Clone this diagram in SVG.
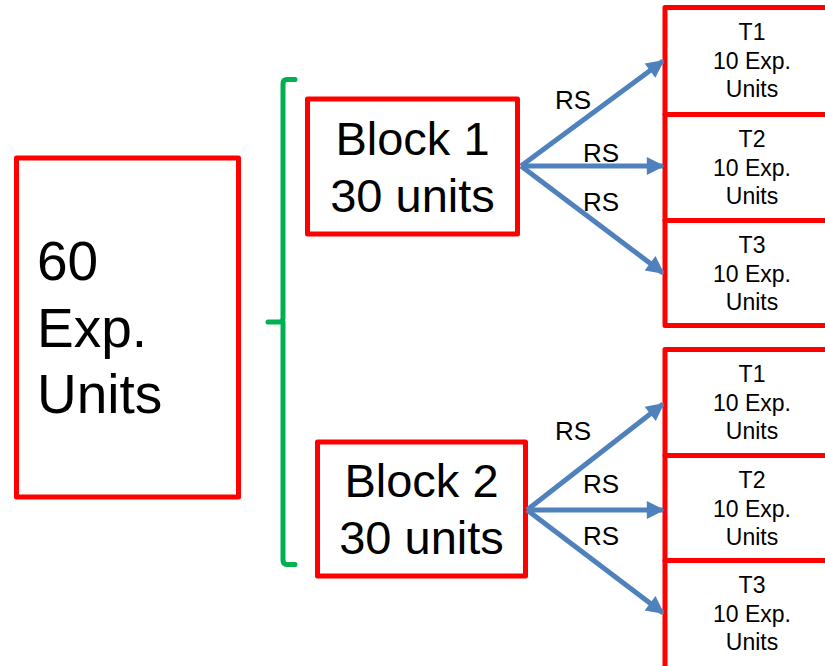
<svg xmlns="http://www.w3.org/2000/svg" width="825" height="666" viewBox="0 0 825 666">
  <style>
    .box { fill: #FFFFFF; stroke: #FF0000; stroke-width: 5; stroke-linejoin: round; }
    .txt { font-family: "Liberation Sans", Arial, sans-serif; fill: #000000; }
    .big { font-size: 55px; }
    .blk { font-size: 47px; text-anchor: middle; }
    .trt { font-size: 23px; text-anchor: middle; }
    .rs  { font-size: 26px; }
    .arrow { stroke: #4F81BD; stroke-width: 5; fill: none; marker-end: url(#head); }
    .brace { stroke: #00B050; stroke-width: 5; fill: none; stroke-linecap: round; stroke-linejoin: round; }
  </style>
  <defs>
    <marker id="head" viewBox="0 0 10 10" refX="9" refY="5" markerWidth="4.2" markerHeight="3.6" orient="auto" markerUnits="strokeWidth">
      <path d="M0,0 L10,5 L0,10 z" fill="#4F81BD"/>
    </marker>
  </defs>

  <rect width="825" height="666" fill="#FFFFFF"/>

  <!-- total pool of units -->
  <g id="pool">
    <rect class="box" x="16.5" y="158" width="222" height="339"/>
    <text class="txt big" x="37" y="280">60</text>
    <text class="txt big" x="37" y="347">Exp.</text>
    <text class="txt big" x="37" y="413">Units</text>
  </g>

  <!-- brace grouping the two blocks -->
  <g id="brace">
    <path class="brace" d="M295,79.5 L287,79.5 Q283,79.5 283,84 L283,318 Q283,322 279,322 L268,322 M283,322 L283,560 Q283,564.5 287,564.5 L295,564.5"/>
  </g>

  <g id="block1">
    <rect class="box" x="307.5" y="99" width="210" height="135"/>
    <text class="txt blk" x="412.5" y="155">Block 1</text>
    <text class="txt blk" x="412.5" y="212">30 units</text>
  </g>

  <g id="block2">
    <rect class="box" x="317.5" y="442" width="208" height="134"/>
    <text class="txt blk" x="421.5" y="497">Block 2</text>
    <text class="txt blk" x="421.5" y="554">30 units</text>
  </g>

  <!-- treatments, block 1 -->
  <g id="b1t1">
    <rect class="box" x="665" y="7.5" width="200" height="107"/>
    <text class="txt trt" x="752" y="40">T1</text>
    <text class="txt trt" x="752" y="69">10 Exp.</text>
    <text class="txt trt" x="752" y="97">Units</text>
  </g>
  <g id="b1t2">
    <rect class="box" x="665" y="114.5" width="200" height="106"/>
    <text class="txt trt" x="752" y="147">T2</text>
    <text class="txt trt" x="752" y="176">10 Exp.</text>
    <text class="txt trt" x="752" y="204">Units</text>
  </g>
  <g id="b1t3">
    <rect class="box" x="665" y="220.5" width="200" height="105"/>
    <text class="txt trt" x="752" y="253">T3</text>
    <text class="txt trt" x="752" y="282">10 Exp.</text>
    <text class="txt trt" x="752" y="310">Units</text>
  </g>

  <!-- treatments, block 2 -->
  <g id="b2t1">
    <rect class="box" x="665" y="349.5" width="200" height="106"/>
    <text class="txt trt" x="752" y="382">T1</text>
    <text class="txt trt" x="752" y="411">10 Exp.</text>
    <text class="txt trt" x="752" y="439">Units</text>
  </g>
  <g id="b2t2">
    <rect class="box" x="665" y="455.5" width="200" height="105"/>
    <text class="txt trt" x="752" y="488">T2</text>
    <text class="txt trt" x="752" y="517">10 Exp.</text>
    <text class="txt trt" x="752" y="545">Units</text>
  </g>
  <g id="b2t3">
    <rect class="box" x="665" y="560.5" width="200" height="120"/>
    <text class="txt trt" x="752" y="593">T3</text>
    <text class="txt trt" x="752" y="622">10 Exp.</text>
    <text class="txt trt" x="752" y="650">Units</text>
  </g>

  <!-- random assignment connectors -->
  <g id="connectors">
    <line class="arrow" x1="521" y1="166" x2="663" y2="61"/>
    <line class="arrow" x1="521" y1="166" x2="663" y2="166"/>
    <line class="arrow" x1="521" y1="166" x2="663" y2="273"/>
    <line class="arrow" x1="527" y1="510" x2="663" y2="404"/>
    <line class="arrow" x1="527" y1="510" x2="663" y2="510"/>
    <line class="arrow" x1="527" y1="510" x2="663" y2="613"/>
    <text class="txt rs" x="555" y="109">RS</text>
    <text class="txt rs" x="583" y="162">RS</text>
    <text class="txt rs" x="583" y="211">RS</text>
    <text class="txt rs" x="555" y="440">RS</text>
    <text class="txt rs" x="583" y="493">RS</text>
    <text class="txt rs" x="583" y="545">RS</text>
  </g>
</svg>
